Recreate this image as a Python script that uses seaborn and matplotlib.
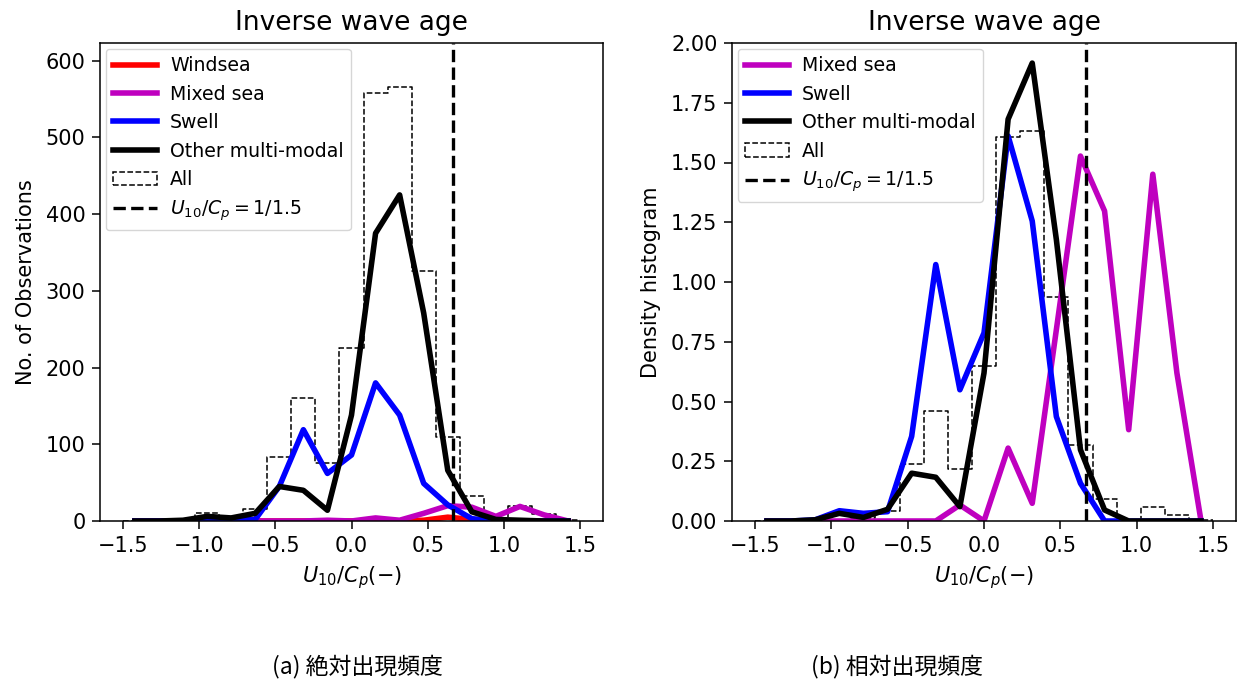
import numpy as np
import pandas as pd
import matplotlib
matplotlib.use("Agg")
import matplotlib.pyplot as plt
import seaborn as sns
from matplotlib.lines import Line2D
from matplotlib.patches import Patch

# ---------------- data ----------------
bin_edges = np.linspace(-1.5, 1.5, 20)
bin_centers = (bin_edges[:-1] + bin_edges[1:]) / 2

# counts of all observations per bin ("All")
all_counts = [0, 1, 2, 10, 5, 15, 83, 160, 75, 225, 558, 566, 326, 110, 32, 1, 20, 9, 1]

# left panel: number of observations per class
windsea_cnt = [0, 0, 0, 0, 0, 0, 0, 0, 0, 0, 0, 0, 1, 5, 2, 0, 0, 0, 0]
mixed_cnt = [0, 0, 0, 0, 0, 0, 0, 0, 1, 0, 4, 1, 10, 20, 18, 6, 19, 8, 0]
swell_cnt = [0, 0, 0, 1, 1, 2, 45, 119, 62, 86, 180, 138, 49, 21, 3, 0, 0, 0, 0]
other_cnt = [0, 0, 1, 6, 4, 10, 45, 40, 14, 138, 375, 425, 271, 66, 12, 2, 1, 0, 0]

# right panel: density per class
mixed_den = [0, 0, 0, 0, 0, 0, 0, 0, 0.067, 0, 0.305, 0.074, 0.80, 1.527, 1.297, 0.382, 1.451, 0.619, 0]
swell_den = [0, 0, 0.005, 0.043, 0.032, 0.039, 0.354, 1.073, 0.549, 0.787, 1.611, 1.255, 0.437, 0.158, 0.0, 0, 0, 0, 0]
other_den = [0, 0, 0.005, 0.032, 0.015, 0.049, 0.20, 0.183, 0.06, 0.619, 1.681, 1.916, 1.178, 0.298, 0.046, 0.0, 0, 0, 0]

threshold = 1 / 1.5

hist_df = pd.DataFrame({"u": bin_centers, "n": all_counts})

# ---------------- figure ----------------
plt.rcParams["font.family"] = "sans-serif"
plt.rcParams["font.sans-serif"] = ["DejaVu Sans"]
plt.rcParams["mathtext.fontset"] = "dejavusans"
plt.rcParams["axes.linewidth"] = 1.1
fig = plt.figure(figsize=(12.42, 6.84), dpi=100)
ax1 = fig.add_axes([100 / 1242, 1 - 521 / 684, 503 / 1242, 478 / 684])
ax2 = fig.add_axes([732 / 1242, 1 - 521 / 684, 504 / 1242, 478 / 684])

LW = 4.0
TICK_FS = 15
LAB_FS = 15
TITLE_FS = 19
LEG_FS = 13.6
DV = "DejaVu Sans"


def draw_hist(ax, stat):
    sns.histplot(data=hist_df, x="u", weights="n", bins=list(bin_edges), stat=stat,
                 element="step", fill=False, color="k", linestyle="--",
                 linewidth=1.1, ax=ax)


def draw_line(ax, y, color):
    sns.lineplot(x=bin_centers, y=y, color=color, linewidth=LW, ax=ax)


# left panel
draw_hist(ax1, "count")
draw_line(ax1, windsea_cnt, "r")
draw_line(ax1, mixed_cnt, "m")
draw_line(ax1, swell_cnt, "b")
draw_line(ax1, other_cnt, "k")
ax1.axvline(threshold, color="k", linestyle="--", linewidth=2.4)
ax1.set_xlim(-1.65, 1.65)
ax1.set_ylim(0, 623)
ax1.set_ylabel("No. of Observations", fontsize=LAB_FS, family=DV, labelpad=7)

# right panel
draw_hist(ax2, "density")
draw_line(ax2, mixed_den, "m")
draw_line(ax2, swell_den, "b")
draw_line(ax2, other_den, "k")
ax2.axvline(threshold, color="k", linestyle="--", linewidth=2.4)
ax2.set_xlim(-1.65, 1.65)
ax2.set_ylim(0, 2.0)
ax2.set_yticks(np.arange(0, 2.01, 0.25))
ax2.set_ylabel("Density histogram", fontsize=LAB_FS, family=DV, labelpad=7)

thr_label = r"$U_{10}/C_p = 1/1.5$"
h_all = Patch(facecolor="none", edgecolor="k", linestyle="--", linewidth=1.1, label="All")
h_thr = Line2D([], [], color="k", linestyle="--", linewidth=2.4, label=thr_label)
h_wind = Line2D([], [], color="r", linewidth=LW, label="Windsea")
h_mix = Line2D([], [], color="m", linewidth=LW, label="Mixed sea")
h_swell = Line2D([], [], color="b", linewidth=LW, label="Swell")
h_other = Line2D([], [], color="k", linewidth=LW, label="Other multi-modal")

leg_prop = {"family": DV, "size": LEG_FS}
leg_kw = dict(loc="upper left", prop=leg_prop, handlelength=2.3, handletextpad=0.7,
              borderaxespad=0.3, labelspacing=0.5)
ax1.legend(handles=[h_wind, h_mix, h_swell, h_other, h_all, h_thr], **leg_kw)
ax2.legend(handles=[h_mix, h_swell, h_other, h_all, h_thr], **leg_kw)

for ax in (ax1, ax2):
    ax.set_title("Inverse wave age", fontsize=TITLE_FS, pad=9, family=DV)
    ax.set_xlabel(r"$U_{10}/C_p(-)$", fontsize=LAB_FS, labelpad=6)
    ax.set_xticks([-1.5, -1.0, -0.5, 0.0, 0.5, 1.0, 1.5])
    ax.tick_params(labelsize=TICK_FS, length=5.5, width=1.1, pad=5)
    for lab in ax.get_xticklabels() + ax.get_yticklabels():
        lab.set_family(DV)

cap_font = ["Noto Sans CJK JP", "DejaVu Sans"]
fig.text(357 / 1242, 1 - 667 / 684, "(a) 絶対出現頻度", ha="center", va="center",
         fontsize=16.5, family=cap_font)
fig.text(897 / 1242, 1 - 667 / 684, "(b) 相対出現頻度", ha="center", va="center",
         fontsize=16.5, family=cap_font)

fig.savefig("out.png", dpi=100)
